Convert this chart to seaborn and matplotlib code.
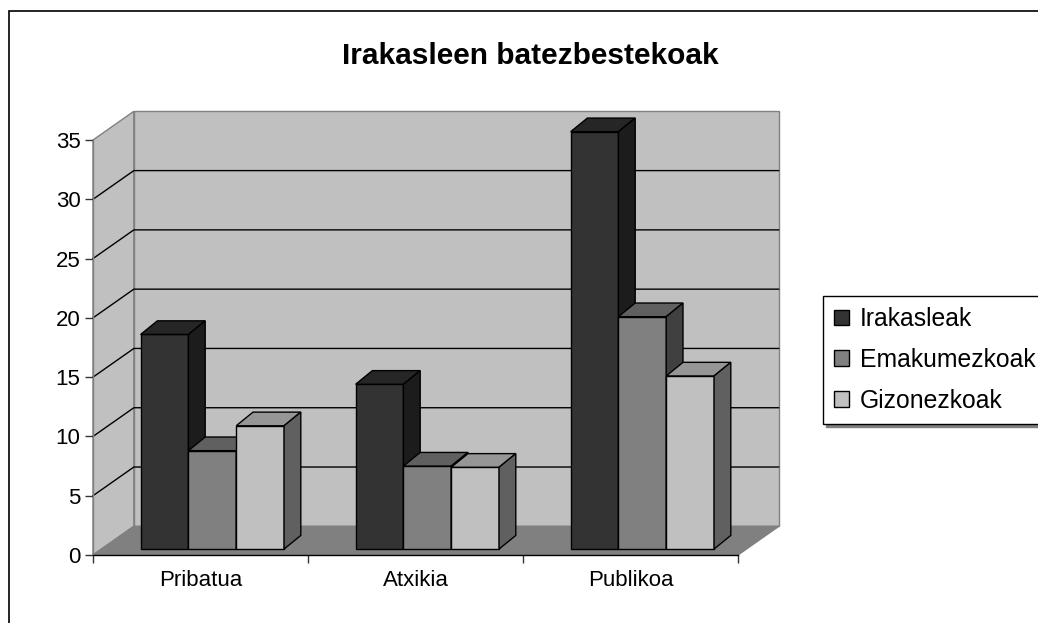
import matplotlib
matplotlib.use("Agg")
import pandas as pd
import matplotlib.pyplot as plt
import seaborn as sns
from matplotlib.patches import Polygon, Rectangle, Patch

categories = ["Pribatua", "Atxikia", "Publikoa"]
series = ["Irakasleak", "Emakumezkoak", "Gizonezkoak"]
irakasleak = [18.1, 13.9, 35.2]
emakumezkoak = [8.3, 7.0, 19.6]
gizonezkoak = [10.4, 6.9, 14.6]
y_ticks = [0, 5, 10, 15, 20, 25, 30, 35]

front_colors = ["#333333", "#808080", "#c0c0c0"]
top_colors = ["#262626", "#606060", "#969696"]
side_colors = ["#1c1c1c", "#404040", "#606060"]

df = pd.DataFrame({
    "kategoria": categories * 3,
    "serie": [s for s in series for _ in categories],
    "balioa": irakasleak + emakumezkoak + gizonezkoak,
})

sns.set_style("white")
plt.rcParams["font.family"] = ["Liberation Sans", "DejaVu Sans"]
plt.rcParams["text.color"] = "black"
plt.rcParams["xtick.color"] = "black"
plt.rcParams["ytick.color"] = "black"

fig = plt.figure(figsize=(10.38, 6.23), dpi=100)
ax = fig.add_axes([93 / 1038, 68 / 623, 645 / 1038, 415 / 623])

# barrak (aurreko aurpegia)
sns.barplot(data=df, x="kategoria", y="balioa", hue="serie", order=categories,
            hue_order=series, palette=front_colors, width=0.667, saturation=1,
            edgecolor="black", linewidth=1, legend=False, ax=ax)

ax.set_xlim(-0.5, 2.5)
ax.set_ylim(0, 35)
ax.patch.set_visible(False)

# sakonera (datu unitateetan)
wall_dx, wall_dy = 0.19, 2.42
bar_ox, bar_oy = 0.055, 0.5
bar_dx, bar_dy = 0.078, 1.15

# hormak eta zorua
side_wall = Polygon([(-0.5, 0), (-0.5 + wall_dx, wall_dy), (-0.5 + wall_dx, 35 + wall_dy), (-0.5, 35)],
                    closed=True, fc="#c0c0c0", ec="#808080", lw=1, zorder=0.5, clip_on=False)
back_wall = Rectangle((-0.5 + wall_dx, wall_dy), 3, 35, fc="#c0c0c0", ec="#808080", lw=1,
                      zorder=0.5, clip_on=False)
floor = Polygon([(-0.5, 0), (2.5, 0), (2.5 + wall_dx, wall_dy), (-0.5 + wall_dx, wall_dy)],
                closed=True, fc="#808080", ec="#808080", lw=1, zorder=0.6, clip_on=False)
for p in [side_wall, back_wall, floor]:
    ax.add_patch(p)

for t in y_ticks[1:-1]:
    ax.plot([-0.5, -0.5 + wall_dx, 2.5 + wall_dx], [t, t + wall_dy, t + wall_dy],
            color="black", lw=1, zorder=0.7, clip_on=False)

# 3D efektua: goiko eta alboko aurpegiak
bars = []
for k, cont in enumerate(ax.containers):
    for bar in cont:
        bars.append((bar.get_x(), bar, k))
bars.sort(key=lambda b: b[0])

for i, (_, bar, k) in enumerate(bars):
    z = 3 + i * 0.01
    bar.set_x(bar.get_x() + bar_ox)
    bar.set_y(bar_oy)
    bar.set_clip_on(False)
    bar.set_zorder(z)
    x0 = bar.get_x()
    x1 = x0 + bar.get_width()
    yt = bar_oy + bar.get_height()
    top = Polygon([(x0, yt), (x1, yt), (x1 + bar_dx, yt + bar_dy), (x0 + bar_dx, yt + bar_dy)],
                  closed=True, fc=top_colors[k], ec="black", lw=1, zorder=z + 0.001, clip_on=False)
    side = Polygon([(x1, bar_oy), (x1 + bar_dx, bar_oy + bar_dy), (x1 + bar_dx, yt + bar_dy), (x1, yt)],
                   closed=True, fc=side_colors[k], ec="black", lw=1, zorder=z + 0.002, clip_on=False)
    ax.add_patch(top)
    ax.add_patch(side)

# ardatzak
for s in ["top", "right"]:
    ax.spines[s].set_visible(False)
ax.spines["left"].set_color("#808080")
ax.spines["bottom"].set_color("black")
ax.spines["left"].set_linewidth(1)
ax.spines["bottom"].set_linewidth(1)

ax.set_xlabel("")
ax.set_ylabel("")
ax.set_yticks(y_ticks)
ax.tick_params(axis="y", left=True, length=6, width=1, color="#333333", labelcolor="black",
               labelsize=16, pad=3)
ax.set_xticks([-0.5, 0.5, 1.5, 2.5], minor=True)
ax.tick_params(axis="x", which="minor", bottom=True, length=6, width=1, color="#333333")
ax.tick_params(axis="x", which="major", bottom=True, length=0, labelsize=16, labelcolor="black", pad=11)

fig.text(530 / 1038, 1 - 56 / 623, "Irakasleen batezbestekoak", ha="center", va="center",
         fontsize=21.5, fontweight="bold", color="black")

handles = [Patch(facecolor=c, edgecolor="black", lw=1, label=s) for c, s in zip(front_colors, series)]
leg = fig.legend(handles=handles, loc="upper left", bbox_to_anchor=(823 / 1038, 1 - 296 / 623),
                 frameon=True, fancybox=False, edgecolor="black", framealpha=1, fontsize=17.8,
                 handlelength=0.6, handleheight=0.6, handletextpad=0.45, borderpad=0.45,
                 labelspacing=0.68, borderaxespad=0,
                 shadow={"ox": 2, "oy": -2, "color": "#808080", "alpha": 1})
leg.get_frame().set_linewidth(1)

# grafikoaren markoa
fig.add_artist(Rectangle((9 / 1038, -0.1), 1.2, (1 - 11 / 623) + 0.1, transform=fig.transFigure,
                         fill=False, ec="black", lw=1.2))

fig.savefig("out.png", dpi=100)
